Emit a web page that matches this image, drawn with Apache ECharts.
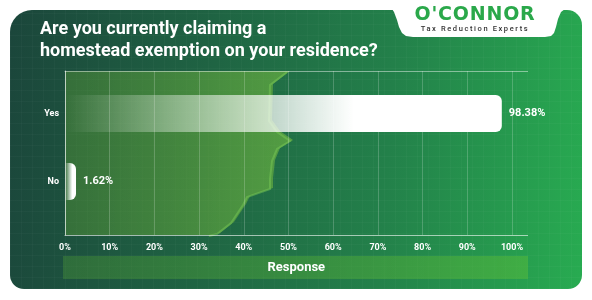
<!DOCTYPE html>
<html>
<head>
<meta charset="utf-8">
<script src="https://cdn.jsdelivr.net/npm/echarts@6/dist/echarts.min.js"></script>
<style>
  html, body { margin: 0; padding: 0; background: #fff; }
  #wrap { position: relative; width: 592px; height: 300px; overflow: hidden; }
  #card {
    position: absolute; left: 10px; top: 10px; width: 572px; height: 279px;
    border-radius: 22px 15px 14px 14px;
    background:
      repeating-linear-gradient(90deg, rgba(255,255,255,0.025) 0 1px, transparent 1px 11px),
      repeating-linear-gradient(0deg, rgba(255,255,255,0.025) 0 1px, transparent 1px 11px),
      linear-gradient(95deg, #1b463b 0%, #1f6443 35%, #23804a 65%, #28ab51 100%);
  }
  #chart { position: absolute; left: 0; top: 0; width: 592px; height: 300px; }
  .logo { position: absolute; left: 405px; top: 4px; width: 140px; text-align: center; }
  .logo .name {
    font-family: 'DejaVu Sans', sans-serif; font-weight: bold; font-size: 19px;
    color: #2aa84a; letter-spacing: 0.8px; line-height: 19px;
  }
  .logo .tag {
    font-family: Roboto, sans-serif; font-size: 7.5px; color: #333;
    letter-spacing: 1.6px; margin-top: 1px; font-weight: 500;
  }
</style>
</head>
<body>
<div id="wrap">
  <div id="card"></div>
  <div id="chart"></div>
  <div class="logo">
    <div class="name">O'CONNOR</div>
    <div class="tag">Tax Reduction Experts</div>
  </div>
</div>
<script>
const categories = ['Yes', 'No']
const shares = [98.38, 1.62]
const tickValues = [0, 10, 20, 30, 40, 50, 60, 70, 80, 90, 100]

const chart = echarts.init(document.getElementById('chart'))

// bar fade: transparent on the left, white towards the end
const barFill = {
  type: 'linear', x: 0, y: 0, x2: 1, y2: 0,
  colorStops: [
    { offset: 0, color: 'rgba(255,255,255,0)' },
    { offset: 0.66, color: 'rgba(255,255,255,1)' },
    { offset: 1, color: 'rgba(255,255,255,1)' }
  ]
}

// decorative wave behind the bars
const wavePts = [
  [65, 71], [290, 71], [273, 84], [272, 120], [280, 131], [293, 140],
  [280, 148], [275, 160], [273, 178], [273, 188], [250, 196], [246, 204],
  [234, 222], [220, 233], [212, 235], [65, 235]
]
const waveEdge = wavePts.slice(1, 15).map(p => [p[0] - 3, p[1] + 1])

// white tab holding the logo
const tabPts = [
  [384, 0], [390, 6], [394, 12], [397, 20], [399, 27], [402, 33], [406, 36],
  [413, 37], [545, 37], [551, 36], [554, 33], [556, 27], [558, 19], [561, 12],
  [565, 9], [572, 8], [592, 8], [592, 0]
]

const option = {
  animation: false,
  title: {
    text: 'Are you currently claiming a\nhomestead exemption on your residence?',
    left: 35,
    top: 13,
    textStyle: {
      color: '#fff',
      fontFamily: 'Roboto',
      fontWeight: 'bold',
      fontSize: 18,
      lineHeight: 22
    }
  },
  graphic: [
    {
      type: 'polygon',
      z: -5,
      shape: { points: tabPts },
      style: { fill: '#fff' }
    },
    {
      type: 'polygon',
      z: -10,
      shape: { points: wavePts },
      style: {
        fill: {
          type: 'linear', x: 0, y: 0, x2: 1, y2: 0,
          colorStops: [
            { offset: 0, color: 'rgba(85,150,55,0.45)' },
            { offset: 1, color: 'rgba(115,185,65,0.62)' }
          ]
        }
      }
    },
    {
      type: 'polyline',
      z: -9,
      shape: { points: waveEdge },
      style: { stroke: 'rgba(120,200,85,0.5)', lineWidth: 2, fill: null }
    },
    {
      type: 'rect',
      z: -8,
      shape: { x: 63, y: 256, width: 465, height: 23 },
      style: {
        fill: {
          type: 'linear', x: 0, y: 0, x2: 1, y2: 0,
          colorStops: [
            { offset: 0, color: 'rgba(75,150,55,0.4)' },
            { offset: 1, color: 'rgba(85,185,60,0.55)' }
          ]
        }
      }
    }
  ],
  grid: [
    { left: 65, right: 64.4, top: 71, bottom: 65 },
    { left: 65, right: 83, top: 79.5, bottom: 84.5 }
  ],
  xAxis: [
    {
      gridIndex: 0,
      type: 'value',
      min: 0,
      max: 103.5,
      interval: 10,
      axisLine: { show: true, lineStyle: { color: 'rgba(255,255,255,0.6)', width: 1 } },
      axisTick: { show: false },
      axisLabel: {
        showMaxLabel: false,
        color: '#fff',
        fontFamily: 'Roboto',
        fontWeight: 'bold',
        fontSize: 9,
        margin: 8,
        formatter: v => (tickValues.indexOf(v) >= 0 ? v + '%' : '')
      },
      splitLine: {
        show: true,
        showMaxLine: false,
        lineStyle: { color: 'rgba(255,255,255,0.2)', width: 1 }
      },
      name: 'Response',
      nameLocation: 'middle',
      nameGap: 26,
      nameTextStyle: {
        color: '#fff',
        fontFamily: 'Roboto',
        fontWeight: 'bold',
        fontSize: 13
      }
    },
    {
      gridIndex: 0,
      type: 'value',
      position: 'top',
      min: 0,
      max: 103.5,
      axisLine: { show: true, lineStyle: { color: 'rgba(255,255,255,0.45)', width: 1 } },
      axisTick: { show: false },
      axisLabel: { show: false },
      splitLine: { show: false }
    },
    {
      gridIndex: 1,
      type: 'value',
      min: 0,
      max: 100,
      show: false
    }
  ],
  yAxis: [
    {
      gridIndex: 0,
      type: 'value',
      min: 0,
      max: 1,
      axisLine: { show: true, lineStyle: { color: 'rgba(255,255,255,0.6)', width: 1 } },
      axisTick: { show: false },
      axisLabel: { show: false },
      splitLine: { show: false }
    },
    {
      gridIndex: 1,
      type: 'category',
      data: categories,
      inverse: true,
      axisLine: { show: false },
      axisTick: { show: false },
      axisLabel: {
        color: '#fff',
        fontFamily: 'Roboto',
        fontWeight: 'bold',
        fontSize: 9,
        margin: 6
      }
    }
  ],
  series: [
    {
      type: 'bar',
      xAxisIndex: 2,
      yAxisIndex: 1,
      data: shares,
      barWidth: 37,
      barMinHeight: 11,
      itemStyle: { color: barFill, borderRadius: [0, 6, 6, 0] },
      label: {
        show: true,
        position: 'right',
        distance: 7,
        color: '#fff',
        fontFamily: 'Roboto',
        fontWeight: 'bold',
        fontSize: 11,
        formatter: p => p.value.toFixed(2) + '%'
      }
    }
  ]
}

chart.setOption(option)
</script>
</body>
</html>
